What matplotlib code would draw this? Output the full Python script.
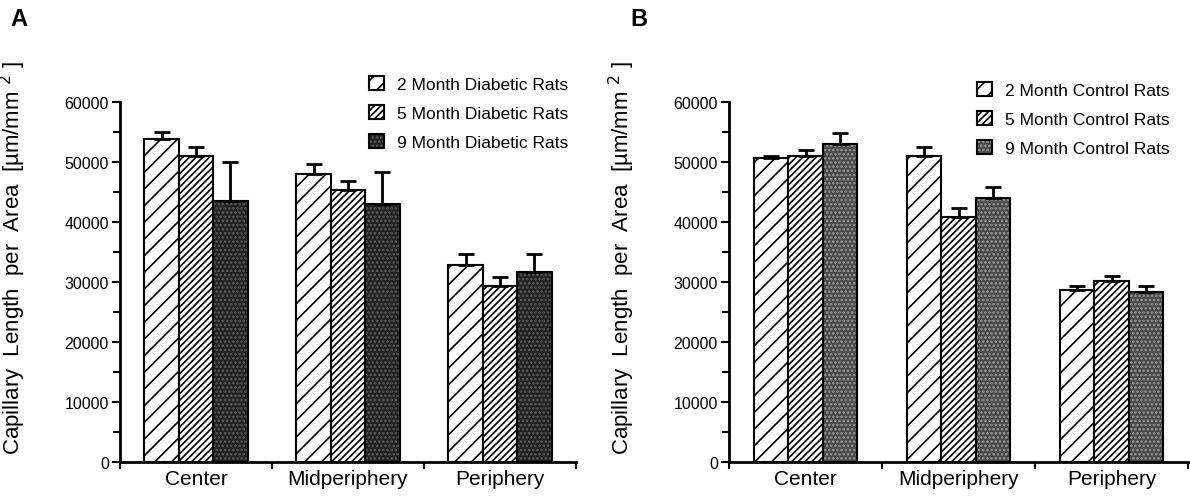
import matplotlib
matplotlib.use("Agg")
import matplotlib.pyplot as plt
from matplotlib.patches import Patch
from matplotlib.ticker import MultipleLocator

plt.rcParams["font.family"] = ["Liberation Sans", "DejaVu Sans"]
plt.rcParams["hatch.linewidth"] = 1.2

regions = ["Center", "Midperiphery", "Periphery"]

diabetic_labels = ["2 Month Diabetic Rats", "5 Month Diabetic Rats", "9 Month Diabetic Rats"]
diabetic_mean = [
    [53900, 48100, 32900],   # 2 month
    [51000, 45300, 29400],   # 5 month
    [43600, 43100, 31600],   # 9 month
]
diabetic_err = [
    [1200, 1600, 1700],
    [1500, 1500, 1500],
    [6400, 5300, 3000],
]

control_labels = ["2 Month Control Rats", "5 Month Control Rats", "9 Month Control Rats"]
control_mean = [
    [50700, 51000, 28600],
    [51000, 40800, 30100],
    [53000, 44000, 28400],
]
control_err = [
    [400, 1500, 700],
    [1000, 1500, 900],
    [1900, 1900, 900],
]

ylabel = "Capillary  Length  per  Area  [µm/mm $^{2}$ ]"
BAR_W = 0.226
HATCHES = ["//", "/////"]


def draw_panel(fig, rect, means, errs, labels, dark_face, dark_hatch, letter, letter_x, leg_xy):
    ax = fig.add_axes(rect)
    handles = []
    for i, (m, e) in enumerate(zip(means, errs)):
        xs = [g + 0.5 + (i - 1) * BAR_W for g in range(len(regions))]
        if i < 2:
            ax.bar(xs, m, BAR_W, color="white", edgecolor="black",
                   hatch=HATCHES[i], linewidth=1.5, zorder=2)
            handles.append(Patch(facecolor="white", edgecolor="black",
                                 hatch=HATCHES[i], linewidth=1.5))
        else:
            # stippled dark fill: hatch drawn in grey, outline redrawn in black
            ax.bar(xs, m, BAR_W, color=dark_face, edgecolor=dark_hatch,
                   hatch="....", linewidth=0, zorder=2)
            ax.bar(xs, m, BAR_W, fill=False, edgecolor="black",
                   linewidth=1.5, zorder=3)
            handles.append((Patch(facecolor=dark_face, edgecolor=dark_hatch,
                                  hatch="....", linewidth=0),
                            Patch(fill=False, edgecolor="black", linewidth=1.5)))
        ax.errorbar(xs, m, yerr=[[0] * len(e), e], fmt="none", ecolor="black",
                    elinewidth=2, capsize=5.5, capthick=2, zorder=4)

    ax.set_xlim(0, 3)
    ax.set_ylim(0, 60000)
    for s in ("top", "right"):
        ax.spines[s].set_visible(False)
    for s in ("left", "bottom"):
        ax.spines[s].set_linewidth(2)
    ax.yaxis.set_major_locator(MultipleLocator(10000))
    ax.yaxis.set_minor_locator(MultipleLocator(5000))
    ax.tick_params(axis="y", which="major", length=6, width=1.5, labelsize=11.5, pad=2)
    ax.tick_params(axis="y", which="minor", length=5, width=1.5)
    ax.set_xticks([0, 1, 2, 3])
    ax.set_xticklabels([])
    ax.tick_params(axis="x", which="major", length=5, width=1.5)
    ax.set_xticks([0.5, 1.5, 2.5], minor=True)
    ax.set_xticklabels(regions, minor=True, fontsize=15)
    ax.tick_params(axis="x", which="minor", length=0, pad=5)
    ax.set_ylabel(ylabel, fontsize=16)
    ax.yaxis.set_label_coords(-92 / rect[2] / 1190, 0.57)

    fig.legend(handles, labels, loc="upper left", bbox_to_anchor=leg_xy,
               frameon=False, fontsize=12.5, handlelength=0.85, handleheight=0.85,
               handletextpad=0.75, labelspacing=0.75, borderpad=0, borderaxespad=0)
    fig.text(letter_x, 0.962, letter, fontsize=17, fontweight="bold", va="center")
    return ax


fig = plt.figure(figsize=(11.9, 5.02), dpi=100)
draw_panel(fig, [120 / 1190, 1 - 462.7 / 502, 456 / 1190, 359.4 / 502],
           diabetic_mean, diabetic_err, diabetic_labels, "#222222", "#5a5a5a",
           "A", 10 / 1190, (369 / 1190, 1 - 77 / 502))
draw_panel(fig, [729 / 1190, 1 - 462.7 / 502, 459 / 1190, 359.4 / 502],
           control_mean, control_err, control_labels, "#4a4a4a", "#9a9a9a",
           "B", 630 / 1190, (977 / 1190, 1 - 83 / 502))

fig.savefig("out.png", dpi=100)
